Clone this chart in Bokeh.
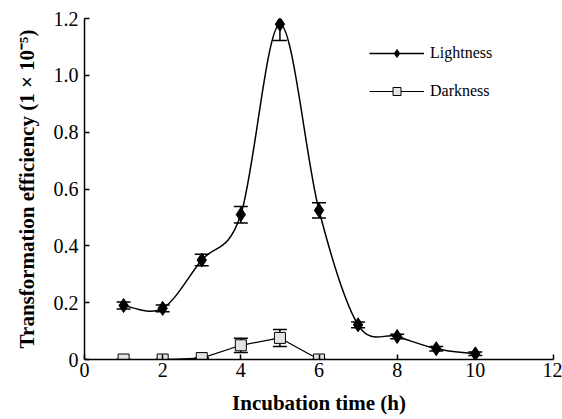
import numpy as np
from bokeh.plotting import figure
from bokeh.models import FixedTicker, Whisker, TeeHead, ColumnDataSource, Legend, LegendItem, Range1d
from bokeh.embed import file_html
from bokeh.resources import INLINE

# ---- data ----
hours = [1, 2, 3, 4, 5, 6, 7, 8, 9, 10]
lightness = [0.19, 0.18, 0.35, 0.51, 1.18, 0.525, 0.122, 0.081, 0.038, 0.02]
lightness_up = [0.012, 0.012, 0.02, 0.028, 0.047, 0.027, 0.01, 0.008, 0.008, 0.006]
lightness_lo = [0.012, 0.012, 0.02, 0.03, 0.057, 0.027, 0.01, 0.008, 0.008, 0.006]

dark_hours = [1, 2, 3, 4, 5, 6]
darkness = [0.0, 0.0, 0.005, 0.05, 0.076, 0.0]
darkness_err = [0.0, 0.0, 0.0, 0.025, 0.03, 0.0]

x_ticks = [0, 2, 4, 6, 8, 10, 12]
y_ticks = [0, 0.2, 0.4, 0.6, 0.8, 1.0, 1.2]
y_tick_labels = ["0", "0.2", "0.4", "0.6", "0.8", "1.0", "1.2"]

SERIF = "Liberation Serif"

p = figure(frame_width=469, frame_height=341, min_border_left=84, min_border_right=9,
           min_border_top=18, min_border_bottom=52,
           x_range=Range1d(0, 12), y_range=Range1d(0, 1.2),
           output_backend="svg", toolbar_location=None)
p.outline_line_color = None
p.xgrid.visible = False
p.ygrid.visible = False

# smooth curve (Catmull-Rom -> cubic Bezier) through the lightness points
xs = np.array(hours, dtype=float)
ys = np.array(lightness, dtype=float)
n = len(xs)
px = np.concatenate([[xs[0]], xs, [xs[-1]]])
py = np.concatenate([[ys[0]], ys, [ys[-1]]])
bez = dict(x0=[], y0=[], x1=[], y1=[], cx0=[], cy0=[], cx1=[], cy1=[])
for i in range(n - 1):
    a, b, c, d = i, i + 1, i + 2, i + 3
    bez["x0"].append(px[b]); bez["y0"].append(py[b])
    bez["x1"].append(px[c]); bez["y1"].append(py[c])
    bez["cx0"].append(px[b] + (px[c] - px[a]) / 6); bez["cy0"].append(py[b] + (py[c] - py[a]) / 6)
    bez["cx1"].append(px[c] - (px[d] - px[b]) / 6); bez["cy1"].append(py[c] - (py[d] - py[b]) / 6)
bsrc = ColumnDataSource(bez)

lsrc = ColumnDataSource(dict(x=hours, y=lightness,
                             up=[v + e for v, e in zip(lightness, lightness_up)],
                             lo=[v - e for v, e in zip(lightness, lightness_lo)]))
dsrc = ColumnDataSource(dict(x=dark_hours, y=darkness,
                             up=[v + e for v, e in zip(darkness, darkness_err)],
                             lo=[v - e for v, e in zip(darkness, darkness_err)]))

for src in (lsrc, dsrc):
    w = Whisker(base="x", upper="up", lower="lo", source=src, level="underlay",
                line_color="black", line_width=1.5,
                upper_head=TeeHead(size=14, line_color="black", line_width=1.5),
                lower_head=TeeHead(size=14, line_color="black", line_width=1.5))
    p.add_layout(w)

lb = p.bezier(x0="x0", y0="y0", x1="x1", y1="y1", cx0="cx0", cy0="cy0", cx1="cx1", cy1="cy1",
              source=bsrc, line_color="black", line_width=1.5)
ls = p.scatter("x", "y", source=lsrc, marker="diamond", size=14, fill_color="black",
               line_color="black", line_width=1)

dl = p.line("x", "y", source=dsrc, line_color="black", line_width=1.2)
ds = p.scatter("x", "y", source=dsrc, marker="square", size=11, fill_color="#e4e4e4",
               line_color="black", line_width=1)

legend = Legend(items=[LegendItem(label="Lightness", renderers=[lb, ls]),
                       LegendItem(label="Darkness", renderers=[dl, ds])],
                location=(285, 258), glyph_width=55, glyph_height=20, label_standoff=6,
                spacing=18, padding=0, margin=0, border_line_color=None,
                background_fill_alpha=0, label_text_font=SERIF, label_text_font_size="16px",
                label_text_color="black")
p.add_layout(legend)

for ax in (p.xaxis[0], p.yaxis[0]):
    ax.axis_line_color = "black"
    ax.axis_line_width = 1.5
    ax.major_tick_line_color = "black"
    ax.major_tick_line_width = 1.5
    ax.major_tick_in = 5
    ax.major_tick_out = 0
    ax.minor_tick_line_color = None
    ax.major_label_text_font = SERIF
    ax.major_label_text_font_size = "20px"
    ax.major_label_text_color = "black"
    ax.axis_label_text_font = SERIF
    ax.axis_label_text_font_style = "bold"
    ax.axis_label_text_font_size = "21px"
    ax.axis_label_text_color = "black"

p.xaxis.ticker = FixedTicker(ticks=x_ticks)
p.yaxis.ticker = FixedTicker(ticks=y_ticks)
p.yaxis.major_label_overrides = {t: l for t, l in zip(y_ticks, y_tick_labels)}
p.xaxis.major_label_standoff = 3
p.yaxis.major_label_standoff = 6
p.xaxis.axis_label = "Incubation time (h)"
p.yaxis.axis_label = "Transformation efficiency (1 × 10⁻⁵)"
p.xaxis.axis_label_standoff = 11
p.yaxis.axis_label_standoff = 12

open("out.html", "w").write(file_html(p, INLINE))
